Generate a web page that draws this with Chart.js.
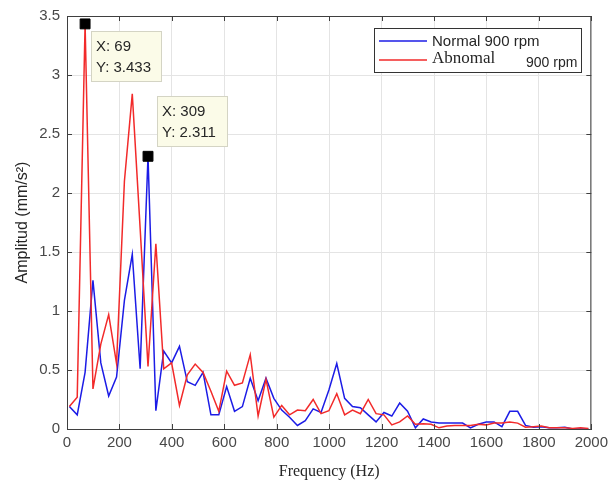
<!DOCTYPE html>
<html>
<head>
<meta charset="utf-8">
<script src="https://cdn.jsdelivr.net/npm/chart.js@4.4.1/dist/chart.umd.min.js"></script>
<style>
  html, body { margin: 0; padding: 0; background: #ffffff; }
  #wrap { width: 613px; height: 486px; }
</style>
</head>
<body>
<div id="wrap"><canvas id="c" width="613" height="486"></canvas></div>
<script>
// ---- data ----
const freqs = [9, 39, 69, 99, 129, 159, 189, 219, 249, 279, 309, 339, 369, 399, 429, 459, 489, 519, 549, 579,
  609, 639, 669, 699, 729, 759, 789, 819, 849, 879, 909, 939, 969, 999, 1029, 1059, 1089, 1119, 1149, 1179,
  1209, 1239, 1269, 1299, 1329, 1359, 1389, 1419, 1449, 1479, 1509, 1539, 1569, 1599, 1629, 1659, 1689, 1719,
  1749, 1779, 1809, 1839, 1869, 1899, 1929, 1959, 1989];
const normal900 = [0.19, 0.12, 0.48, 1.26, 0.56, 0.28, 0.44, 1.09, 1.48, 0.51, 2.311, 0.155, 0.66, 0.56, 0.70,
  0.40, 0.37, 0.48, 0.12, 0.12, 0.36, 0.15, 0.19, 0.43, 0.24, 0.43, 0.26, 0.16, 0.10, 0.03, 0.07, 0.17, 0.14,
  0.33, 0.555, 0.26, 0.19, 0.18, 0.12, 0.06, 0.14, 0.11, 0.22, 0.15, 0.01, 0.085, 0.06, 0.05, 0.05, 0.05, 0.05,
  0.01, 0.04, 0.06, 0.06, 0.02, 0.15, 0.15, 0.03, 0.015, 0.02, 0.01, 0.01, 0.015, 0.0, 0.0, 0.0];
const abnormal900 = [0.19, 0.27, 3.433, 0.34, 0.72, 0.97, 0.555, 2.1, 2.84, 1.7, 0.53, 1.57, 0.51, 0.56, 0.20,
  0.46, 0.55, 0.48, 0.32, 0.15, 0.49, 0.37, 0.39, 0.63, 0.11, 0.42, 0.10, 0.20, 0.12, 0.16, 0.155, 0.25, 0.13,
  0.155, 0.30, 0.12, 0.16, 0.13, 0.25, 0.13, 0.12, 0.035, 0.06, 0.11, 0.04, 0.045, 0.04, 0.01, 0.025, 0.03, 0.03,
  0.03, 0.04, 0.035, 0.05, 0.05, 0.06, 0.05, 0.015, 0.02, 0.025, 0.01, 0.01, 0.01, 0.005, 0.01, 0.005];
const tipFreqs = [69, 309];
const tipAmps = [3.433, 2.311];
const seriesLabels = ['Normal 900 rpm', 'Abnomal 900 rpm'];
const xTicks = [0, 200, 400, 600, 800, 1000, 1200, 1400, 1600, 1800, 2000];
const yTicks = [0, 0.5, 1, 1.5, 2, 2.5, 3, 3.5];

const BLUE = '#1c1ce6';
const RED = '#f22a2a';
const AXIS = '#3f3f3f';

function pts(vals) { return freqs.map((f, i) => ({ x: f, y: vals[i] })); }

const boxAndTicks = {
  id: 'boxAndTicks',
  afterDatasetsDraw(chart) {
    const { ctx, chartArea: a } = chart;
    const xs = chart.scales.x, ys = chart.scales.y;
    ctx.save();
    ctx.strokeStyle = AXIS;
    ctx.lineWidth = 1;
    ctx.beginPath();
    ctx.moveTo(a.left, a.top + 0.5); ctx.lineTo(a.right, a.top + 0.5);
    ctx.moveTo(a.right - 0.5, a.top); ctx.lineTo(a.right - 0.5, a.bottom);
    xTicks.forEach(v => {
      const px = Math.round(xs.getPixelForValue(v)) + 0.5;
      ctx.moveTo(px, a.bottom); ctx.lineTo(px, a.bottom - 5);
      ctx.moveTo(px, a.top); ctx.lineTo(px, a.top + 5);
    });
    yTicks.forEach(v => {
      const py = Math.round(ys.getPixelForValue(v)) + 0.5;
      ctx.moveTo(a.left, py); ctx.lineTo(a.left + 5, py);
      ctx.moveTo(a.right, py); ctx.lineTo(a.right - 5, py);
    });
    ctx.stroke();

    // data tips
    const offs = [[6, 7], [9, -60]];
    tipFreqs.forEach((f, i) => {
      const px = xs.getPixelForValue(f), py = ys.getPixelForValue(tipAmps[i]);
      const bx = Math.round(px + offs[i][0]), by = Math.round(py + offs[i][1]);
      const bw = 71, bh = 51;
      ctx.fillStyle = '#fbfbe8';
      ctx.fillRect(bx, by, bw, bh);
      ctx.strokeStyle = '#d4d4c4';
      ctx.strokeRect(bx + 0.5, by + 0.5, bw - 1, bh - 1);
      ctx.fillStyle = '#262626';
      ctx.font = '15px "Liberation Sans", Arial, sans-serif';
      ctx.textBaseline = 'middle';
      ctx.textAlign = 'left';
      ctx.fillText('X: ' + f, bx + 5, by + 16);
      ctx.fillText('Y: ' + tipAmps[i].toFixed(3), bx + 5, by + 37);
    });

    // legend
    const lx = 374, ly = 28, lw = 208, lh = 45;
    ctx.fillStyle = '#ffffff';
    ctx.fillRect(lx, ly, lw, lh);
    ctx.strokeStyle = '#333333';
    ctx.strokeRect(lx + 0.5, ly + 0.5, lw - 1, lh - 1);
    ctx.lineWidth = 1.5;
    ctx.strokeStyle = BLUE;
    ctx.beginPath(); ctx.moveTo(379, 41); ctx.lineTo(427, 41); ctx.stroke();
    ctx.strokeStyle = RED;
    ctx.beginPath(); ctx.moveTo(379, 60); ctx.lineTo(427, 60); ctx.stroke();
    ctx.fillStyle = '#262626';
    ctx.textBaseline = 'middle';
    ctx.font = '15px "Liberation Sans", Arial, sans-serif';
    ctx.fillText(seriesLabels[0], 432, 42);
    const parts = seriesLabels[1].split(' ');
    ctx.font = '17px "Liberation Serif", "Times New Roman", serif';
    ctx.fillText(parts[0], 432, 59);
    ctx.font = '14px "Liberation Sans", Arial, sans-serif';
    ctx.fillText(parts.slice(1).join(' '), 526, 63);
    ctx.restore();
  }
};

new Chart(document.getElementById('c'), {
  type: 'scatter',
  data: {
    datasets: [
      { label: seriesLabels[0], data: pts(normal900), showLine: true, borderColor: BLUE, borderWidth: 1.5,
        pointRadius: 0, order: 2, tension: 0 },
      { label: seriesLabels[1], data: pts(abnormal900), showLine: true, borderColor: RED, borderWidth: 1.5,
        pointRadius: 0, order: 1, tension: 0 },
      { label: 'tips', data: tipFreqs.map((f, i) => ({ x: f, y: tipAmps[i] })), showLine: false,
        pointStyle: 'rect', pointRadius: 7, pointBorderWidth: 1, backgroundColor: '#000000',
        borderColor: '#000000', order: 0, clip: false }
    ]
  },
  options: {
    responsive: false,
    animation: false,
    devicePixelRatio: 1,
    layout: { padding: { left: 0, top: 14, right: 14, bottom: 0 } },
    plugins: { legend: { display: false }, tooltip: { enabled: false } },
    scales: {
      x: {
        type: 'linear', min: 0, max: 2000,
        afterBuildTicks: s => { s.ticks = xTicks.map(v => ({ value: v })); },
        afterFit: s => { s.height = 57; },
        grid: { color: '#e4e4e4', drawTicks: false },
        border: { display: true, color: AXIS },
        ticks: { padding: 5, color: '#484848', font: { family: '"Liberation Sans", Arial, sans-serif', size: 15 },
                 maxRotation: 0, autoSkip: false, callback: v => String(v) },
        title: { display: true, text: 'Frequency (Hz)', color: '#262626',
                 font: { family: '"Liberation Serif", "Times New Roman", serif', size: 16 },
                 padding: { top: 0, bottom: 5 } }
      },
      y: {
        type: 'linear', min: 0, max: 3.5,
        afterBuildTicks: s => { s.ticks = yTicks.map(v => ({ value: v })); },
        afterFit: s => { s.width = 67; },
        grid: { color: '#e4e4e4', drawTicks: false },
        border: { display: true, color: AXIS },
        ticks: { padding: 7, color: '#484848', font: { family: '"Liberation Sans", Arial, sans-serif', size: 15 },
                 callback: v => String(v) },
        title: { display: true, text: 'Amplitud (mm/s²)', color: '#262626',
                 font: { family: '"Liberation Sans", Arial, sans-serif', size: 16 },
                 padding: { top: 13, bottom: 0 } }
      }
    }
  },
  plugins: [boxAndTicks]
});
</script>
</body>
</html>
